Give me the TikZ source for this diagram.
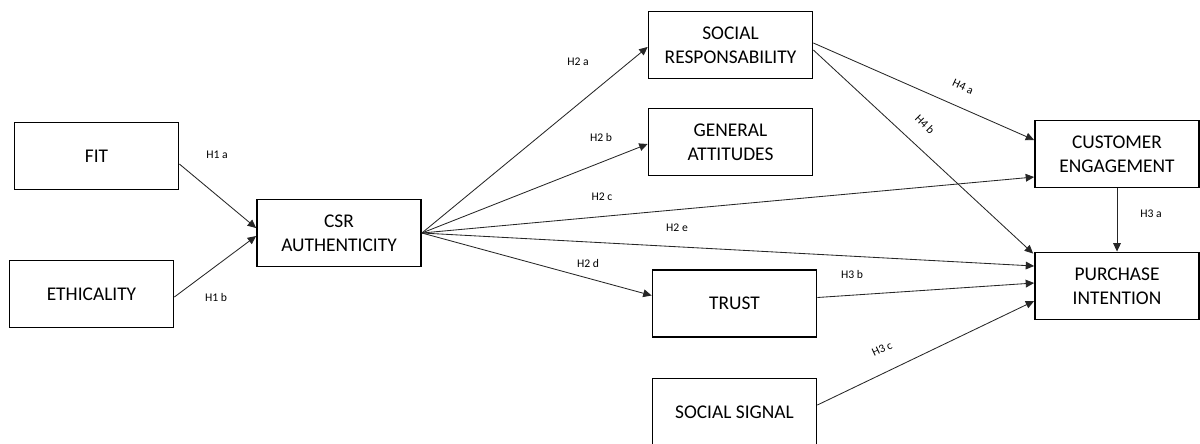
\documentclass[tikz,border=0pt]{standalone}
\usepackage{fontspec}
\setmainfont{Carlito}
\usepackage{tikz}
\usetikzlibrary{arrows.meta, calc}

\begin{document}
\begin{tikzpicture}[
    x=0.025cm, y=-0.025cm,
    construct/.style={rectangle, draw=black, line width=1.2pt, minimum width=4.1cm, minimum height=1.68cm, align=center, inner sep=2pt, font=\fontsize{13.8}{17}\selectfont},
    hyp/.style={font=\fontsize{8.3}{10}\selectfont, inner sep=1pt},
    conn/.style={-{Triangle[length=6pt, width=5.5pt]}, line width=0.6pt, black!85}
]
    \useasboundingbox (0,0) rectangle (1200,443);

    % Constructs
    \node[construct] (fit) at (96.5,156) {FIT};
    \node[construct] (eth) at (91.5,294) {ETHICALITY};
    \node[construct] (csr) at (339,233) {CSR\\AUTHENTICITY};
    \node[construct] (sr) at (730.5,45) {SOCIAL\\RESPONSABILITY};
    \node[construct] (ga) at (730.5,142) {GENERAL\\ATTITUDES};
    \node[construct] (trust) at (734.5,303.5) {TRUST};
    \node[construct] (sig) at (734.5,412) {SOCIAL SIGNAL};
    \node[construct] (ce) at (1117,154) {CUSTOMER\\ENGAGEMENT};
    \node[construct] (pi) at (1117,286) {PURCHASE\\INTENTION};

    % Connections
    \draw[conn] ($(fit.east)+(0,8)$) -- ($(csr.west)+(0,-5)$);
    \draw[conn] ($(eth.east)+(0,3)$) -- ($(csr.west)+(0,3)$);
    \draw[conn] (csr.east) -- ($(sr.west)+(0,2)$);
    \draw[conn] (csr.east) -- ($(ga.west)+(0,2)$);
    \draw[conn] (csr.east) -- ($(ce.west)+(0,23)$);
    \draw[conn] (csr.east) -- ($(pi.west)+(0,-20)$);
    \draw[conn] (csr.east) -- ($(trust.west)+(0,-8)$);
    \draw[conn] ($(sr.east)+(0,-2)$) -- ($(ce.west)+(0,-14)$);
    \draw[conn] ($(sr.east)+(0,5)$) -- ($(pi.north west)+(-1,2)$);
    \draw[conn] (ce.south) -- (pi.north);
    \draw[conn] ($(trust.east)+(0,-6)$) -- ($(pi.west)+(0,-3)$);
    \draw[conn] ($(sig.east)+(0,-7)$) -- ($(pi.west)+(0,15)$);

    % Hypotheses
    \node[hyp] (h1a) at (217,155) {H1 a};
    \node[hyp] (h1b) at (216,297) {H1 b};
    \node[hyp] (h2a) at (578,62) {H2 a};
    \node[hyp] (h2b) at (601,137) {H2 b};
    \node[hyp] (h2c) at (602,197) {H2 c};
    \node[hyp] (h2e) at (677,228) {H2 e};
    \node[hyp] (h2d) at (588,263) {H2 d};
    \node[hyp, rotate=-25] (h4a) at (963,87) {H4 a};
    \node[hyp, rotate=-45] (h4b) at (925,124) {H4 b};
    \node[hyp] (h3a) at (1151,214) {H3 a};
    \node[hyp] (h3b) at (852,274) {H3 b};
    \node[hyp, rotate=25] (h3c) at (882,349) {H3 c};
\end{tikzpicture}
\end{document}
